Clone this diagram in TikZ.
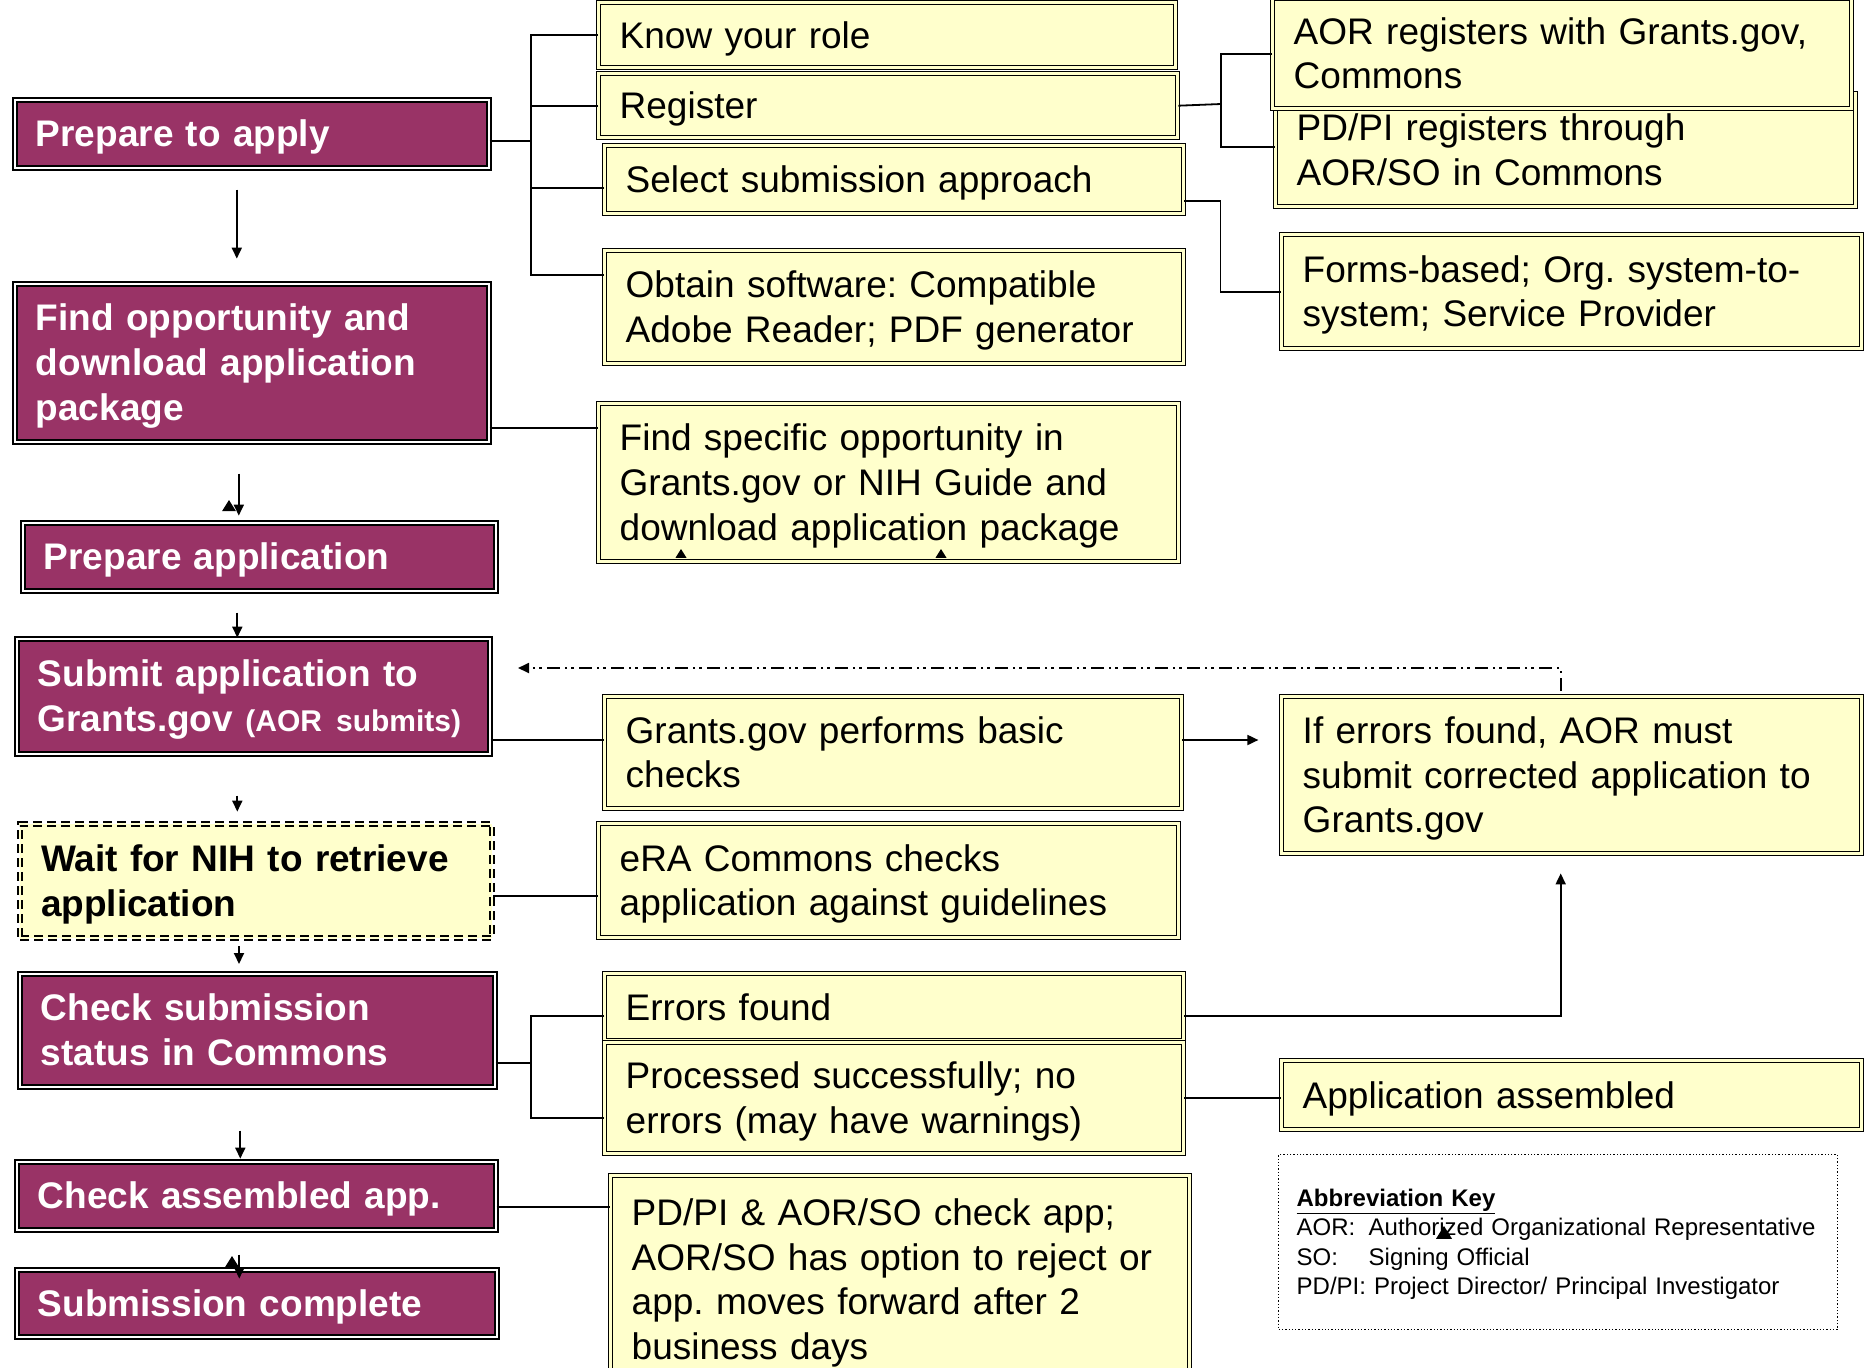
\documentclass[tikz,border=0pt]{standalone}
\usepackage{fontspec}
\setmainfont{Liberation Sans}
\usetikzlibrary{arrows.meta}

\definecolor{plum}{HTML}{993366}
\definecolor{cream}{HTML}{FFFFCC}

% small stray arrow tips, tip at (#1,#2), pointing up
\newcommand{\tipmark}[3]{\fill (#1,#2) -- ++({-#3/2},{0.8*#3}) -- ++(#3,0) -- cycle;}

\begin{document}
\frenchspacing
\begin{tikzpicture}[x=1pt, y=-1pt, >={Triangle[length=11pt,width=10pt]},
        size/.style 2 args={minimum width=#1, minimum height=#2, text width=#1-42},
        lines/.style={execute at begin node={\rule{0pt}{0.905em}},
            execute at end node={\rule[-0.212em]{0pt}{0.212em}}},
        stage/.style={draw=black, line width=1.6pt, double=white, double distance=2.5pt,
            fill=plum, text=white, anchor=north west, align=left, inner xsep=21pt, inner ysep=0pt,
            font=\fontsize{37}{44.8}\selectfont\bfseries, lines},
        waitbox/.style={stage, fill=cream, text=black, double=cream, line width=2pt,
            double distance=1.2pt, dash pattern=on 9pt off 5pt},
        task/.style={draw=black, line width=1.4pt, double=cream, double distance=2.5pt,
            fill=cream, anchor=north west, align=left, inner xsep=21pt, inner ysep=0pt,
            font=\fontsize{37}{44.8}\selectfont, lines},
        link/.style={line width=1.8pt},
        dashdot/.style={dash pattern=on 13pt off 5pt on 2.5pt off 4pt on 2.5pt off 5pt}]

        \useasboundingbox (0,0) rectangle (1874,1368);
        \clip (0,0) rectangle (1874,1368);

        % left column
        \node[stage, size={474}{68}] (prep) at (14,99) {Prepare to apply};
        \node[stage, size={474}{158}] (find) at (14,283) {Find opportunity and\\download application\\package};
        \node[stage, size={473}{68}] (prepapp) at (22,522) {Prepare application};
        \node[stage, size={473}{115}] (submit) at (16,638) {Submit application to\\\mbox{Grants.gov {\fontsize{30}{36}\selectfont(AOR\hspace{14pt}submits)}}};
        \node[waitbox, size={472}{114}] (wait) at (19,823) {Wait for NIH to retrieve\\application};
        \node[stage, size={475}{113}] (check) at (19,973) {Check submission\\status in Commons};
        \node[stage, size={479}{68}] (checkasm) at (16,1161) {Check assembled app.};
        \node[stage, size={480}{67}] (done) at (16,1269) {Submission complete};

        % middle column
        \node[task, size={577}{65}] (know) at (598,2) {Know your role};
        \node[task, size={579}{64}] (register) at (598,73) {Register};
        \node[task, size={579}{68}] (select) at (604,145) {Select submission approach};
        \node[task, size={579}{113}] (obtain) at (604,250) {Obtain software: Compatible\\Adobe Reader; PDF generator};
        \node[task, size={580}{158}] (findspec) at (598,403) {Find specific opportunity in\\Grants.gov or NIH Guide and\\download application package};
        \node[task, size={577}{112}] (ggchecks) at (604,696) {Grants.gov performs basic\\checks};
        \node[task, size={580}{114}] (era) at (598,823) {eRA Commons checks\\application against guidelines};
        \node[task, size={579}{67}] (errors) at (604,973) {Errors found};
        \node[task, size={579}{111}] (processed) at (604,1042) {Processed successfully; no\\errors (may have warnings)};
        \node[task, size={579}{208}] (pdpi) at (610,1175) {PD/PI \& AOR/SO check app;\\AOR/SO has option to reject or\\app. moves forward after 2\\business days};

        % right column
        \node[task, size={580}{113}] (pdpireg) at (1275,93) {PD/PI registers through\\AOR/SO in Commons};
        \node[task, size={579}{110}] (aor) at (1272,-2) {AOR registers with Grants.gov,\\Commons};
        \node[task, size={580}{114}] (forms) at (1281,234) {Forms-based; Org. system-to-\\system; Service Provider};
        \node[task, size={580}{157}] (iferr) at (1281,696) {If errors found, AOR must\\submit corrected application to\\Grants.gov};
        \node[task, size={580}{69}] (assembled) at (1281,1060) {Application assembled};

        \node[draw=black, dotted, line width=1.3pt, anchor=north west, align=left,
            minimum width=559, minimum height=175, text width=523, inner xsep=18pt,
            font=\fontsize{24}{29.4}\selectfont, lines] (key) at (1278,1154)
            {\underline{\textbf{Abbreviation Key}}\\
             \mbox{\makebox[72pt][l]{AOR:}Authorized Organizational Representative}\\
             \mbox{\makebox[72pt][l]{SO:}Signing Official}\\
             \mbox{PD/PI: Project Director/ Principal Investigator}};

        % flow down the left column
        \draw[link, ->] (prep.south) ++(-15,21) -- ++(0,69);
        \draw[link, ->] (find.south) ++(-13,31) -- ++(0,42);
        \draw[link, ->] (prepapp.south) ++(-22,21) -- ++(0,25);
        \draw[link, ->] (submit.south) ++(-16,41) -- ++(0,16);
        \draw[link, ->] (wait.south) ++(-17,7) -- ++(0,18);
        \draw[link, ->] (check.south) ++(-17,43) -- ++(0,28);
        \draw[link, ->] (checkasm.south) ++(-17,24) -- ++(0,24);

        % brackets
        \coordinate (jPrep) at (531,141);
        \draw[link] (prep.east |- jPrep) -- (jPrep);
        \draw[link] (know.west) -| (jPrep) |- (obtain.west |- 0,275);
        \draw[link] (register.west) -- (register.west -| jPrep);
        \draw[link] (select.west |- 0,188) -- (jPrep |- 0,188);

        \coordinate (jReg) at (1221,104);
        \draw[link] (register.east) -- (jReg);
        \draw[link] (aor.west) -| (jReg) |- (pdpireg.west |- 0,147);
        \draw[link] (select.east) ++(0,21) -- ++(36,0) |- (forms.west);

        \draw[link] (find.east |- 0,428) -- (findspec.west |- 0,428);
        \draw[link] (submit.east |- 0,740) -- (ggchecks.west |- 0,740);
        \draw[link, ->] (ggchecks.east |- 0,740) -- ++(76,0);

        \coordinate (ret) at (518,668);
        \draw[link, dashdot, ->] (iferr.north) ++(-11,-5) |- (ret);

        \draw[link] (wait.east |- 0,896) -- (era.west |- 0,896);

        \coordinate (jChk) at (531,1063);
        \draw[link] (check.east |- jChk) -- (jChk);
        \draw[link] (errors.west |- 0,1016) -| (jChk) |- (processed.west |- 0,1118);
        \draw[link, ->] (errors.east |- 0,1016) -| ([xshift=-11pt, yshift=-19pt]iferr.south);
        \draw[link] (processed.east) -- (processed.east -| assembled.west);
        \draw[link] (checkasm.east |- 0,1207) -- (pdpi.west |- 0,1207);

        % stray tips
        \tipmark{681}{549}{11}
        \tipmark{941}{549}{11}
        \tipmark{1444}{1226}{16}
        \tipmark{229}{500}{14}
        \tipmark{232}{1256}{14}

    \end{tikzpicture}
\end{document}
